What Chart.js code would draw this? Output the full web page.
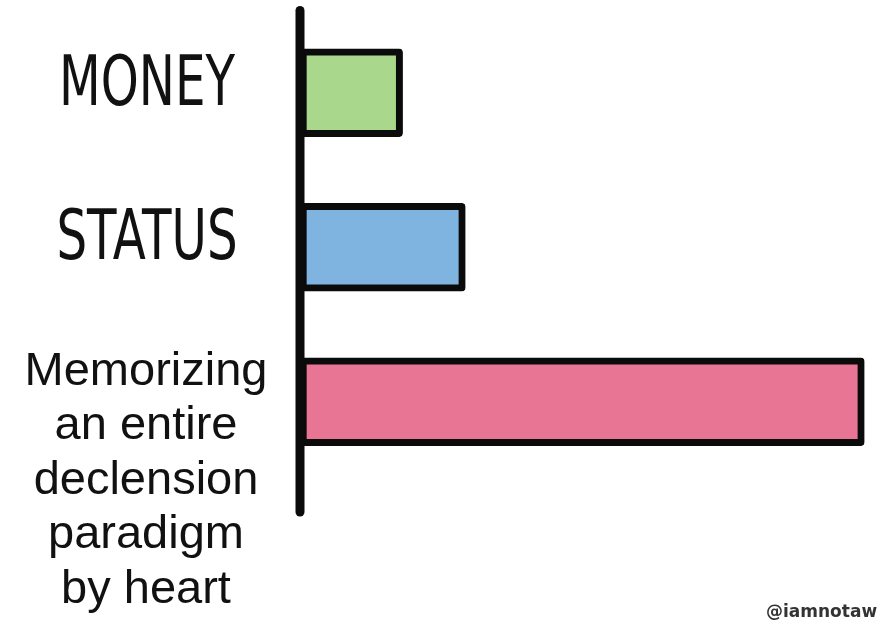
<!DOCTYPE html>
<html>
<head>
<meta charset="utf-8">
<script src="https://cdn.jsdelivr.net/npm/chart.js@4/dist/chart.umd.min.js"></script>
<style>
  html, body { margin: 0; padding: 0; background: #ffffff; }
  #wrap { width: 877px; height: 623px; position: relative; }
</style>
</head>
<body>
<div id="wrap"><canvas id="chart"></canvas></div>
<script>
// Chart data
const categories = ["MONEY", "STATUS", ["Memorizing", "an entire", "declension", "paradigm", "by heart"]];
const values = [18, 29, 99];
const barColors = ["#a9d78b", "#80b4e0", "#e97595"];
const credit = "@iamnotawriter";

const ink = "#0b0b0b";
const thickness = 88;

// Draws the hand-drawn style axis line, the category labels and the credit
const sketchPlugin = {
  id: "sketch",
  afterDatasetsDraw(chart) {
    const ctx = chart.ctx;
    const area = chart.chartArea;
    const xs = chart.scales.x;
    const ys = chart.scales.y;
    const x0 = xs.getPixelForValue(0);

    ctx.save();
    ctx.strokeStyle = ink;
    ctx.lineWidth = 9;
    ctx.lineCap = "round";
    ctx.beginPath();
    ctx.moveTo(x0, area.top - 5);
    ctx.lineTo(x0, area.bottom + 33);
    ctx.stroke();

    ctx.fillStyle = "#111111";
    ctx.textAlign = "center";
    ctx.textBaseline = "alphabetic";
    const cx = 146;

    categories.forEach((lab, i) => {
      const top = ys.getPixelForValue(i) - thickness / 2;
      if (Array.isArray(lab)) {
        ctx.font = '47px "Liberation Sans", Arial, sans-serif';
        lab.forEach((line, j) => {
          ctx.fillText(line, cx, top + 27 + j * 54.5);
        });
      } else {
        // condensed capitals, close to the hand lettering
        ctx.save();
        ctx.font = '70px "DejaVu Sans", sans-serif';
        ctx.translate(cx + 1, top + 56);
        ctx.scale(0.69, 1);
        ctx.fillText(lab, 0, 0);
        ctx.restore();
      }
    });

    ctx.textAlign = "left";
    ctx.fillStyle = "#333333";
    ctx.font = 'bold 17px "DejaVu Sans", sans-serif';
    ctx.fillText(credit, 766, 617);
    ctx.restore();
  }
};

new Chart(document.getElementById("chart"), {
  type: "bar",
  plugins: [sketchPlugin],
  data: {
    labels: categories,
    datasets: [
      {
        data: values,
        backgroundColor: barColors,
        borderColor: ink,
        borderWidth: 7,
        borderRadius: 4,
        borderSkipped: false,
        barThickness: thickness,
      },
    ],
  },
  options: {
    indexAxis: "y",
    responsive: true,
    maintainAspectRatio: false,
    animation: false,
    layout: { padding: { left: 300, right: 7, top: 15.5, bottom: 144 } },
    scales: {
      x: { display: false, min: 0, max: 100 },
      y: { display: false, offset: true },
    },
    plugins: {
      legend: { display: false },
      tooltip: { enabled: false },
    },
  },
});
</script>
</body>
</html>
